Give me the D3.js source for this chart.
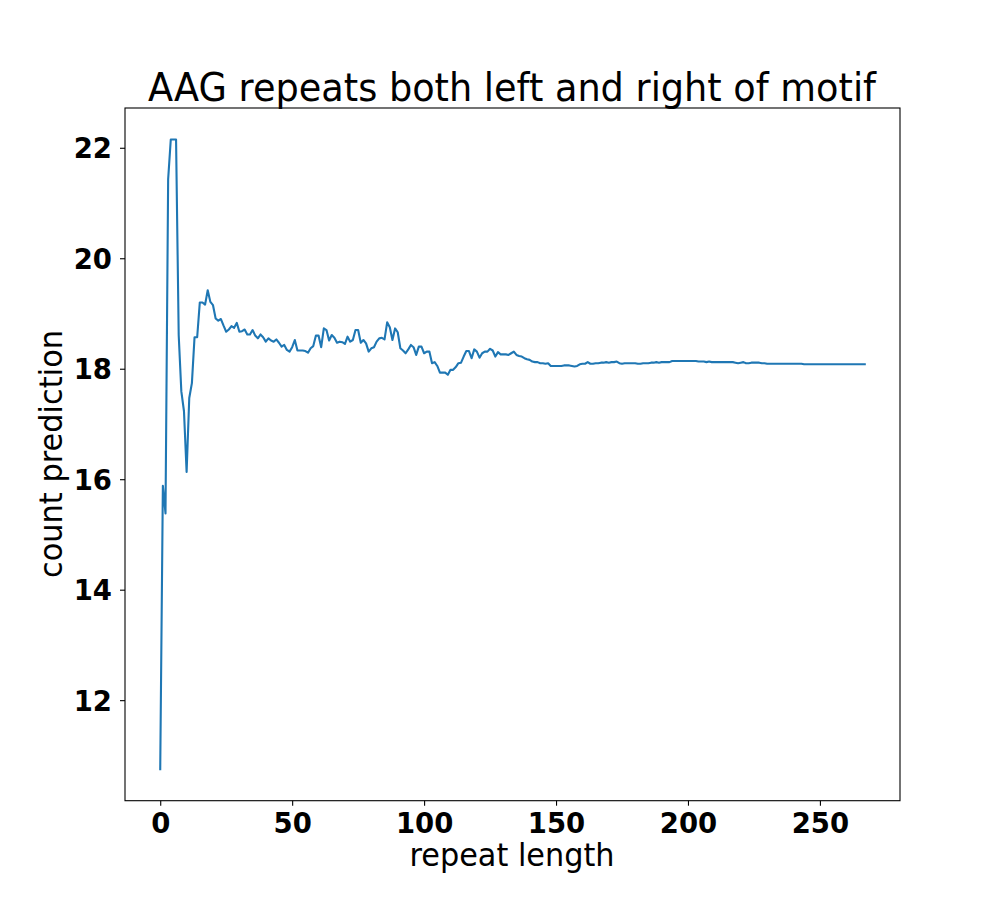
<!DOCTYPE html>
<html><head><meta charset="utf-8">
<script src="https://cdn.jsdelivr.net/npm/d3@7"></script>
<style>body{margin:0;background:#fff}</style>
</head><body>
<svg id="c" width="1000" height="900"></svg>
<script>
const titleText = "AAG repeats both left and right of motif";
const xLabel = "repeat length";
const yLabel = "count prediction";
const xTicks = [0, 50, 100, 150, 200, 250];
const yTicks = [12, 14, 16, 18, 20, 22];
// count prediction for repeat length 0..267
const values = [
10.75,15.88,15.38,21.43,22.15,22.15,22.15,18.61,17.59,17.23,
16.13,17.47,17.74,18.57,18.57,19.20,19.20,19.16,19.42,19.21,
19.15,18.91,18.87,18.90,18.78,18.67,18.71,18.77,18.74,18.83,
18.67,18.68,18.71,18.62,18.62,18.70,18.60,18.55,18.62,18.57,
18.49,18.55,18.51,18.49,18.53,18.47,18.40,18.43,18.34,18.31,
18.39,18.52,18.33,18.33,18.33,18.32,18.29,18.37,18.41,18.60,
18.60,18.39,18.73,18.70,18.51,18.61,18.56,18.47,18.49,18.48,
18.45,18.58,18.49,18.52,18.70,18.70,18.47,18.52,18.46,18.31,
18.37,18.39,18.49,18.55,18.56,18.53,18.84,18.75,18.52,18.73,
18.66,18.37,18.33,18.28,18.35,18.43,18.39,18.25,18.40,18.40,
18.28,18.31,18.31,18.10,18.12,18.05,17.93,17.93,17.93,17.89,
17.98,17.98,18.03,18.10,18.11,18.22,18.32,18.32,18.19,18.35,
18.31,18.20,18.28,18.31,18.31,18.36,18.33,18.22,18.30,18.26,
18.26,18.26,18.25,18.28,18.31,18.25,18.23,18.22,18.19,18.17,
18.16,18.13,18.12,18.12,18.10,18.10,18.09,18.10,18.05,18.05,
18.05,18.05,18.05,18.06,18.06,18.06,18.05,18.04,18.05,18.08,
18.09,18.09,18.12,18.09,18.09,18.10,18.10,18.11,18.11,18.12,
18.11,18.12,18.12,18.13,18.10,18.09,18.10,18.10,18.10,18.10,
18.10,18.09,18.09,18.10,18.10,18.10,18.11,18.11,18.12,18.11,
18.12,18.12,18.12,18.12,18.14,18.14,18.14,18.14,18.14,18.14,
18.14,18.14,18.14,18.14,18.13,18.13,18.13,18.12,18.13,18.12,
18.12,18.12,18.12,18.12,18.12,18.12,18.12,18.12,18.11,18.10,
18.11,18.12,18.10,18.10,18.11,18.11,18.11,18.11,18.10,18.10,
18.09,18.09,18.09,18.09,18.09,18.09,18.09,18.09,18.09,18.09,
18.09,18.09,18.09,18.09,18.08,18.08,18.08,18.08,18.08,18.08,
18.08,18.08,18.08,18.08,18.08,18.08,18.08,18.08,18.08,18.08,
18.08,18.08,18.08,18.08,18.08,18.08,18.08,18.08
];
const data = values.map((v, i) => ({x: i, y: v}));

const L = 125, R = 900, T = 108, B = 800.7;
const svg = d3.select("#c");

const xmin = 0, xmax = values.length - 1;
const xpad = (xmax - xmin) * 0.05;
const x = d3.scaleLinear().domain([xmin - xpad, xmax + xpad]).range([L, R]);
const ymin = d3.min(values), ymax = d3.max(values);
const ypad = (ymax - ymin) * 0.05;
const y = d3.scaleLinear().domain([ymin - ypad, ymax + ypad]).range([B, T]);

const font = "'DejaVu Sans', sans-serif";

// line
svg.append("path")
  .datum(data)
  .attr("fill", "none")
  .attr("stroke", "#1f77b4")
  .attr("stroke-width", 2.1)
  .attr("stroke-linejoin", "round")
  .attr("stroke-linecap", "square")
  .attr("d", d3.line().x(d => x(d.x)).y(d => y(d.y)));

// frame
svg.append("rect").attr("x", L).attr("y", T).attr("width", R - L).attr("height", B - T)
  .attr("fill", "none").attr("stroke", "#000").attr("stroke-width", 1.1);

// axes
const xAxis = d3.axisBottom(x).tickValues(xTicks).tickSize(5).tickPadding(6).tickFormat(d3.format("d"));
const gx = svg.append("g").attr("transform", `translate(0,${B})`).call(xAxis);
gx.select(".domain").remove();
gx.selectAll("line").attr("stroke", "#000").attr("stroke-width", 1.1);
gx.selectAll("text").attr("font-family", font).attr("font-size", 27.5).attr("font-weight", "bold").attr("fill", "#000").attr("dy", "0.76em");

const yAxis = d3.axisLeft(y).tickValues(yTicks).tickSize(5).tickPadding(8).tickFormat(d3.format("d"));
const gy = svg.append("g").attr("transform", `translate(${L},0)`).call(yAxis);
gy.select(".domain").remove();
gy.selectAll("line").attr("stroke", "#000").attr("stroke-width", 1.1);
gy.selectAll("text").attr("font-family", font).attr("font-size", 27.5).attr("font-weight", "bold").attr("fill", "#000").attr("dy", "0.36em");

// labels
svg.append("text").attr("x", 512).attr("y", 866).attr("text-anchor", "middle")
  .attr("font-family", font).attr("font-size", 32).attr("fill", "#000")
  .attr("textLength", 205).attr("lengthAdjust", "spacingAndGlyphs").text(xLabel);
svg.append("text").attr("transform", `translate(62,${454}) rotate(-90)`).attr("text-anchor", "middle")
  .attr("font-family", font).attr("font-size", 32).attr("fill", "#000")
  .attr("textLength", 248).attr("lengthAdjust", "spacingAndGlyphs").text(yLabel);
svg.append("text").attr("x", 512).attr("y", 101).attr("text-anchor", "middle")
  .attr("font-family", font).attr("font-size", 39).attr("fill", "#000")
  .attr("textLength", 728).attr("lengthAdjust", "spacingAndGlyphs").text(titleText);
</script>
</body></html>
